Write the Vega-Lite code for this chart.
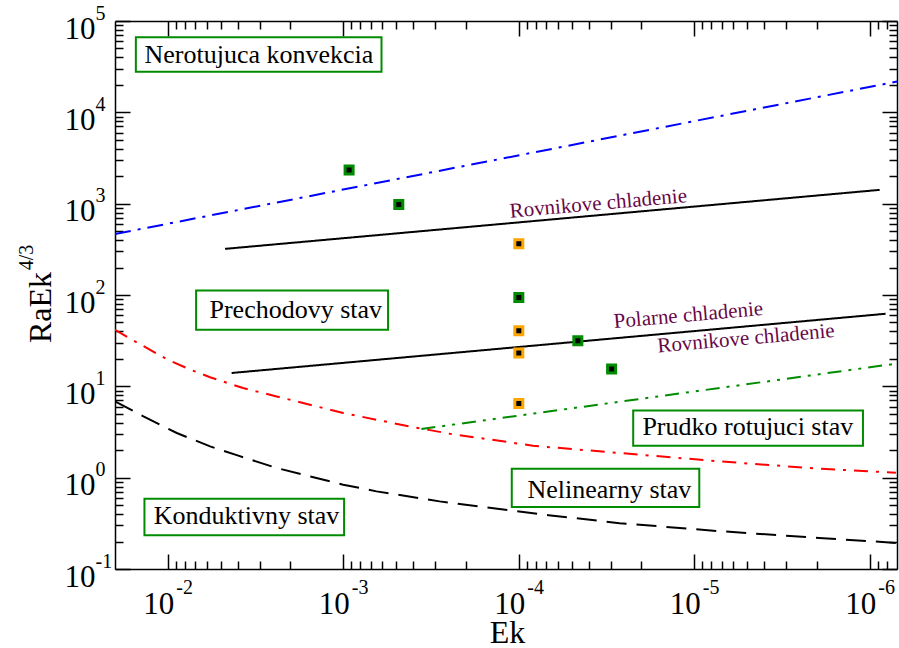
{
  "$schema": "https://vega.github.io/schema/vega-lite/v6.json",
  "width": 782,
  "height": 548,
  "autosize": {"type": "none"},
  "padding": {"left": 115, "top": 21, "right": 2, "bottom": 79},
  "background": "white",
  "config": {
    "view": {"stroke": null},
    "axis": {
      "grid": false,
      "labelFont": "Liberation Serif, Times New Roman, Times, DejaVu Serif, serif",
      "titleFont": "Liberation Serif, Times New Roman, Times, DejaVu Serif, serif",
      "labelColor": "black",
      "titleColor": "black",
      "tickColor": "black",
      "domainColor": "black",
      "tickWidth": 1.5,
      "domainWidth": 1.5,
      "labelOverlap": false,
      "labelFlush": false,
      "labelBound": false,
      "titleFontWeight": "normal"
    }
  },
  "datasets": {
    "boxes": [
      {"label": "Nerotujuca konvekcia", "x1": 0.01521, "x2": 0.000606, "y1": 27880, "y2": 66330, "tx": 0.003025, "ty": 34430},
      {"label": "Prechodovy stav", "x1": 0.0069, "x2": 0.000556, "y1": 41.6, "y2": 112, "tx": 0.001866, "ty": 55.9},
      {"label": "Konduktivny stav", "x1": 0.01359, "x2": 0.00099, "y1": 0.2337, "y2": 0.589, "tx": 0.003562, "ty": 0.3139},
      {"label": "Nelinearny stav", "x1": 0.0001097, "x2": 0.00000937, "y1": 0.478, "y2": 1.254, "tx": 0.00003048, "ty": 0.5995},
      {"label": "Prudko rotujuci stav", "x1": 0.0000223, "x2": 0.000001094, "y1": 2.239, "y2": 5.45, "tx": 0.000004956, "ty": 2.954}
    ],
    "curves": [
      {"s": "nerot", "ek": 0.02, "v": 465},
      {"s": "nerot", "ek": 0.0000007, "v": 21700},
      {"s": "rovnik", "ek": 0.00472, "v": 320},
      {"s": "rovnik", "ek": 0.000000879, "v": 1416},
      {"s": "polar", "ek": 0.00433, "v": 14.0},
      {"s": "polar", "ek": 0.000000813, "v": 62.3},
      {"s": "onset", "ek": 0.02, "v": 41.6},
      {"s": "onset", "ek": 0.01438, "v": 28.88},
      {"s": "onset", "ek": 0.01013, "v": 19.79},
      {"s": "onset", "ek": 0.007465, "v": 15.27},
      {"s": "onset", "ek": 0.005745, "v": 12.58},
      {"s": "onset", "ek": 0.003729, "v": 9.58},
      {"s": "onset", "ek": 0.002399, "v": 7.75},
      {"s": "onset", "ek": 0.001002, "v": 5.105},
      {"s": "onset", "ek": 0.000419, "v": 3.64},
      {"s": "onset", "ek": 0.000248, "v": 3.03},
      {"s": "onset", "ek": 0.0000832, "v": 2.239},
      {"s": "onset", "ek": 0.0000267, "v": 1.863},
      {"s": "onset", "ek": 0.00000721, "v": 1.508},
      {"s": "onset", "ek": 0.000001945, "v": 1.254},
      {"s": "onset", "ek": 0.00000071, "v": 1.134},
      {"s": "cond", "ek": 0.02, "v": 6.84},
      {"s": "cond", "ek": 0.01377, "v": 4.686},
      {"s": "cond", "ek": 0.00889, "v": 3.083},
      {"s": "cond", "ek": 0.005745, "v": 2.2},
      {"s": "cond", "ek": 0.003967, "v": 1.741},
      {"s": "cond", "ek": 0.002399, "v": 1.277},
      {"s": "cond", "ek": 0.001551, "v": 1.033},
      {"s": "cond", "ek": 0.001002, "v": 0.838},
      {"s": "cond", "ek": 0.000647, "v": 0.708},
      {"s": "cond", "ek": 0.0002826, "v": 0.55},
      {"s": "cond", "ek": 0.0000678, "v": 0.3888},
      {"s": "cond", "ek": 0.0000267, "v": 0.3178},
      {"s": "cond", "ek": 0.00000721, "v": 0.2598},
      {"s": "cond", "ek": 0.000001945, "v": 0.2189},
      {"s": "cond", "ek": 0.00000071, "v": 0.193},
      {"s": "rapid", "ek": 0.000359, "v": 3.41},
      {"s": "rapid", "ek": 0.00000071, "v": 17.7}
    ],
    "runs": [
      {"kind": "green", "ek": 0.000927, "v": 2343},
      {"kind": "green", "ek": 0.000483, "v": 977},
      {"kind": "orange", "ek": 0.0001, "v": 363},
      {"kind": "green", "ek": 0.0001, "v": 94},
      {"kind": "orange", "ek": 0.0001, "v": 40.6},
      {"kind": "orange", "ek": 0.0001, "v": 23.1},
      {"kind": "green", "ek": 0.0000461, "v": 31.5},
      {"kind": "green", "ek": 0.0000296, "v": 15.5},
      {"kind": "orange", "ek": 0.0001, "v": 6.5}
    ],
    "notes": [
      {"label": "Rovnikove chladenie", "ek": 0.000035, "v": 855},
      {"label": "Polarne chladenie", "ek": 0.00001074, "v": 51.3},
      {"label": "Rovnikove chladenie", "ek": 0.00000504, "v": 28.5}
    ]
  },
  "layer": [
    {
      "data": {"name": "curves"},
      "mark": {"type": "line", "strokeWidth": 2, "clip": true},
      "encoding": {
        "x": {
          "field": "ek", "type": "quantitative",
          "scale": {"type": "log", "domain": [0.0000007, 0.02], "reverse": true, "nice": false},
          "axis": {
            "orient": "bottom",
            "values": [0.01, 0.001, 0.0001, 0.00001, 0.000001],
            "labelExpr": "'10'",
            "tickSize": -15,
            "labelFontSize": 31,
            "labelAlign": "right",
            "labelBaseline": "alphabetic",
            "labelOffset": 6,
            "labelPadding": 59,
            "title": "Ek",
            "titleFontSize": 32,
            "titleX": 392,
            "titleY": 73,
            "titleAlign": "center",
            "titleBaseline": "alphabetic"
          }
        },
        "y": {
          "field": "v", "type": "quantitative",
          "scale": {"type": "log", "domain": [0.1, 100000], "nice": false},
          "axis": {
            "orient": "left",
            "values": [0.1, 1, 10, 100, 1000, 10000, 100000],
            "labelExpr": "'10'",
            "tickSize": -15,
            "labelFontSize": 31,
            "labelAlign": "right",
            "labelBaseline": "alphabetic",
            "labelOffset": 17,
            "labelPadding": 35,
            "title": "RaEk",
            "titleFontSize": 32,
            "titleAngle": 270,
            "titleX": -65,
            "titleY": 286,
            "titleAlign": "center",
            "titleBaseline": "alphabetic"
          }
        },
        "color": {
          "field": "s", "type": "nominal", "legend": null,
          "scale": {
            "domain": ["nerot", "rovnik", "polar", "onset", "cond", "rapid"],
            "range": ["#0000FF", "#000000", "#000000", "#FF0000", "#000000", "#008B00"]
          }
        },
        "strokeDash": {
          "field": "s", "type": "nominal", "legend": null,
          "scale": {
            "domain": ["nerot", "rovnik", "polar", "onset", "cond", "rapid"],
            "range": [[16, 7, 3, 7], [1, 0], [1, 0], [14, 8, 3, 8], [20, 10], [14, 7, 3, 7, 3, 7]]
          }
        }
      }
    },
    {
      "data": {"name": "boxes"},
      "mark": {"type": "rect", "fill": "white", "stroke": "#008B00", "strokeWidth": 2},
      "encoding": {
        "x": {
          "field": "x1", "type": "quantitative",
          "scale": {"type": "log", "domain": [0.0000007, 0.02], "reverse": true, "nice": false},
          "axis": {
            "orient": "bottom",
            "values": [0.009, 0.008, 0.007, 0.006, 0.005, 0.004, 0.003, 0.002,
                       0.0009, 0.0008, 0.0007, 0.0006, 0.0005, 0.0004, 0.0003, 0.0002,
                       0.00009, 0.00008, 0.00007, 0.00006, 0.00005, 0.00004, 0.00003, 0.00002,
                       0.000009, 0.000008, 0.000007, 0.000006, 0.000005, 0.000004, 0.000003, 0.000002,
                       0.0000009, 0.0000008],
            "labels": false, "domain": false, "tickSize": -8, "title": null
          }
        },
        "x2": {"field": "x2"},
        "y": {
          "field": "y1", "type": "quantitative",
          "scale": {"type": "log", "domain": [0.1, 100000], "nice": false},
          "axis": {
            "orient": "left",
            "values": [0.2, 0.3, 0.4, 0.5, 0.6, 0.7, 0.8, 0.9,
                       2, 3, 4, 5, 6, 7, 8, 9,
                       20, 30, 40, 50, 60, 70, 80, 90,
                       200, 300, 400, 500, 600, 700, 800, 900,
                       2000, 3000, 4000, 5000, 6000, 7000, 8000, 9000,
                       20000, 30000, 40000, 50000, 60000, 70000, 80000, 90000],
            "labels": false, "domain": false, "tickSize": -8, "title": null
          }
        },
        "y2": {"field": "y2"}
      }
    },
    {
      "data": {"name": "boxes"},
      "mark": {"type": "text", "font": "Liberation Serif, Times New Roman, Times, DejaVu Serif, serif", "fontSize": 26, "color": "black", "align": "center", "baseline": "alphabetic"},
      "encoding": {
        "x": {
          "field": "tx", "type": "quantitative",
          "scale": {"type": "log", "domain": [0.0000007, 0.02], "reverse": true, "nice": false},
          "axis": {
            "orient": "bottom",
            "values": [0.01, 0.001, 0.0001, 0.00001, 0.000001],
            "labelExpr": "'' + round(log(datum.value) / LN10)",
            "ticks": false, "domain": false,
            "labelFontSize": 20,
            "labelAlign": "left",
            "labelBaseline": "alphabetic",
            "labelOffset": 8,
            "labelPadding": 24,
            "title": null
          }
        },
        "y": {
          "field": "ty", "type": "quantitative",
          "scale": {"type": "log", "domain": [0.1, 100000], "nice": false},
          "axis": {
            "orient": "left",
            "values": [0.1, 1, 10, 100, 1000, 10000, 100000],
            "labelExpr": "'' + round(log(datum.value) / LN10)",
            "ticks": false, "domain": false,
            "labelFontSize": 20,
            "labelAlign": "left",
            "labelBaseline": "alphabetic",
            "labelOffset": -2,
            "labelPadding": 20,
            "title": "4/3",
            "titleFontSize": 20,
            "titleAngle": 270,
            "titleX": -83,
            "titleY": 236,
            "titleAlign": "center",
            "titleBaseline": "alphabetic"
          }
        },
        "text": {"field": "label"}
      }
    },
    {
      "data": {"name": "runs"},
      "mark": {"type": "point", "shape": "square", "filled": true, "fill": "black", "size": 64, "strokeWidth": 3, "opacity": 1},
      "encoding": {
        "x": {
          "field": "ek", "type": "quantitative",
          "scale": {"type": "log", "domain": [0.0000007, 0.02], "reverse": true, "nice": false},
          "axis": {
            "orient": "top",
            "values": [0.01, 0.001, 0.0001, 0.00001, 0.000001],
            "labels": false, "tickSize": -15, "title": null
          }
        },
        "y": {
          "field": "v", "type": "quantitative",
          "scale": {"type": "log", "domain": [0.1, 100000], "nice": false},
          "axis": {
            "orient": "right",
            "values": [0.1, 1, 10, 100, 1000, 10000, 100000],
            "labels": false, "tickSize": -15, "title": null
          }
        },
        "stroke": {
          "field": "kind", "type": "nominal", "legend": null,
          "scale": {"domain": ["green", "orange"], "range": ["#008B00", "#FFA500"]}
        }
      }
    },
    {
      "data": {"name": "notes"},
      "mark": {"type": "text", "font": "Liberation Serif, Times New Roman, Times, DejaVu Serif, serif", "fontSize": 21, "color": "#670748", "align": "center", "baseline": "alphabetic", "angle": 355},
      "encoding": {
        "x": {
          "field": "ek", "type": "quantitative",
          "scale": {"type": "log", "domain": [0.0000007, 0.02], "reverse": true, "nice": false},
          "axis": {
            "orient": "top",
            "values": [0.009, 0.008, 0.007, 0.006, 0.005, 0.004, 0.003, 0.002,
                       0.0009, 0.0008, 0.0007, 0.0006, 0.0005, 0.0004, 0.0003, 0.0002,
                       0.00009, 0.00008, 0.00007, 0.00006, 0.00005, 0.00004, 0.00003, 0.00002,
                       0.000009, 0.000008, 0.000007, 0.000006, 0.000005, 0.000004, 0.000003, 0.000002,
                       0.0000009, 0.0000008],
            "labels": false, "domain": false, "tickSize": -8, "title": null
          }
        },
        "y": {
          "field": "v", "type": "quantitative",
          "scale": {"type": "log", "domain": [0.1, 100000], "nice": false},
          "axis": {
            "orient": "right",
            "values": [0.2, 0.3, 0.4, 0.5, 0.6, 0.7, 0.8, 0.9,
                       2, 3, 4, 5, 6, 7, 8, 9,
                       20, 30, 40, 50, 60, 70, 80, 90,
                       200, 300, 400, 500, 600, 700, 800, 900,
                       2000, 3000, 4000, 5000, 6000, 7000, 8000, 9000,
                       20000, 30000, 40000, 50000, 60000, 70000, 80000, 90000],
            "labels": false, "domain": false, "tickSize": -8, "title": null
          }
        },
        "text": {"field": "label"}
      }
    }
  ],
  "resolve": {"axis": {"x": "independent", "y": "independent"}}
}
